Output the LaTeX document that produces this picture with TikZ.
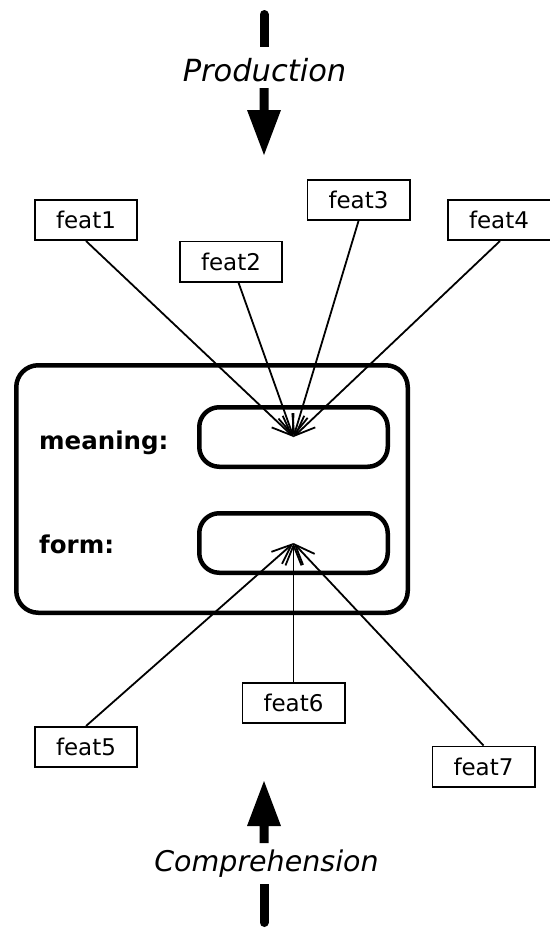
\documentclass[tikz,border=0pt]{standalone}
\usepackage{fontspec}
\setmainfont{DejaVu Sans}
\usetikzlibrary{arrows.meta}
\begin{document}
\begin{tikzpicture}[x=1pt,y=-1pt,
  featbox/.style={draw, line width=1.7pt, minimum width=102.3pt, minimum height=40.3pt, inner sep=0pt, font=\fontsize{23}{27}\selectfont},
  slot/.style={draw, line width=4.5pt, rounded corners=20pt, minimum width=188.5pt, minimum height=59.5pt, inner sep=0pt},
  frame/.style={draw, line width=4.5pt, rounded corners=22pt, minimum width=391.5pt, minimum height=247.5pt, inner sep=0pt},
  conn/.style={line width=1.8pt, -{Straight Barb[length=20pt,width=16pt]}},
  lbl/.style={font=\fontsize{24.5}{29}\selectfont\bfseries, anchor=base west, inner sep=0pt},
  flow/.style={anchor=base, inner sep=0pt},
  shaft/.style={line width=9pt},
  ]
\useasboundingbox (0,0) rectangle (549,929);

% main box and slots
\node[frame] (box) at (212,489) {};
\node[slot] (meaning) at (293.5,437) {};
\node[slot] (form) at (293.5,543) {};
\node[lbl] (lm) at (39,449) {meaning:};
\node[lbl] (lf) at (39,553) {form:};

% feature boxes
\node[featbox] (f1) at (86,220) {feat1};
\node[featbox] (f2) at (231,261.5) {feat2};
\node[featbox] (f3) at (358.5,200) {feat3};
\node[featbox, minimum width=110pt] (f4) at (503,220) {\hspace*{-8pt}feat4};
\node[featbox] (f5) at (86,747) {feat5};
\node[featbox] (f6) at (293.5,703) {feat6};
\node[featbox] (f7) at (483.5,766.5) {feat7};

% connectors
\draw[conn] (f1.south) -- (meaning.center);
\draw[conn] (f2) -- (meaning.center);
\draw[conn] (f3.south) -- (meaning.center);
\draw[conn] ([xshift=-3pt]f4.south) -- (meaning.center);
\draw[conn] (f5.north) -- (form.center);
\draw[conn] (f6.north) -- (form.center);
\draw[conn] (f7.north) -- (form.center);

% Production arrow
\node[flow, font=\fontsize{30.5}{36}\selectfont\itshape] (prod) at (264.5,81) {Production};
\draw[shaft, line cap=round] (264,14.5) -- (264,38);
\draw[shaft] (264,30) -- (264,47);
\fill (259.5,88) -- (259.5,110) -- (247,110) -- (264,155) -- (281,110) -- (268.5,110) -- (268.5,88) -- cycle;

% Comprehension arrow
\node[flow, font=\fontsize{28.5}{34}\selectfont\itshape] (comp) at (266.5,871) {Comprehension};
\fill (259.5,843) -- (259.5,826) -- (247,826) -- (264,781) -- (281,826) -- (268.5,826) -- (268.5,843) -- cycle;
\draw[shaft] (264,884) -- (264,900);
\draw[shaft, line cap=round] (264,892) -- (264,922.5);
\end{tikzpicture}
\end{document}
